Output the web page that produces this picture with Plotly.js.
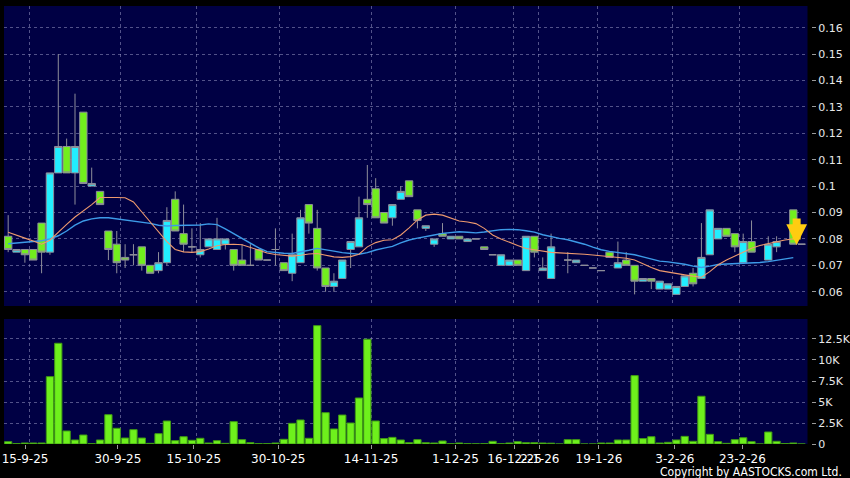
<!DOCTYPE html>
<html><head><meta charset="utf-8">
<script src="https://cdn.plot.ly/plotly-3.0.1.min.js"></script>
<style>html,body{margin:0;padding:0;background:#000;}#chart{width:850px;height:478px;}</style>
</head><body><div id="chart"></div>
<script>
const open=[0.081,0.075,0.076,0.076,0.086,0.075,0.105,0.115,0.105,0.128,
0.100,0.098,0.083,0.078,0.073,0.074,0.077,0.070,0.068,0.071,
0.095,0.082,0.077,0.074,0.077,0.076,0.078,0.076,0.072,0.070,
0.076,0.072,0.076,0.071,0.067,0.071,0.093,0.084,0.069,0.062,
0.065,0.076,0.077,0.095,0.099,0.090,0.088,0.095,0.102,0.091,
0.084,0.078,0.082,0.080,0.081,0.079,0.080,0.077,0.074,0.070,
0.070,0.072,0.068,0.081,0.068,0.065,null,0.072,0.071,0.070,
0.069,0.068,0.075,0.069,0.072,0.070,0.064,0.065,0.061,0.061,
0.059,0.062,0.067,0.065,0.074,0.080,0.084,0.082,0.071,0.079,
null,0.072,0.077,null,0.091,0.078];
const high=[0.089,0.076,0.076,0.076,0.086,0.105,0.150,0.118,0.135,0.128,
0.107,0.098,0.083,0.083,0.078,0.078,0.077,0.070,0.075,0.092,
0.098,0.093,0.084,0.086,0.080,0.088,0.080,0.076,0.078,0.078,
0.076,0.072,0.084,0.071,0.082,0.091,0.093,0.091,0.069,0.067,
0.072,0.079,0.096,0.108,0.103,0.090,0.093,0.100,0.102,0.091,
0.085,0.080,0.086,0.081,0.081,0.080,0.080,0.077,0.074,0.074,
0.072,0.072,0.081,0.081,0.073,0.082,null,0.075,0.072,0.070,
0.069,0.068,0.075,0.079,0.075,0.070,0.065,0.065,0.064,0.063,
0.062,0.066,0.069,0.086,0.091,0.084,0.084,0.082,0.082,0.087,
null,0.081,0.081,null,0.091,0.078];
const low=[0.075,0.075,0.071,0.072,0.067,0.074,0.105,0.105,0.093,0.101,
0.100,0.093,0.072,0.067,0.069,0.070,0.068,0.067,0.067,0.070,
0.083,0.075,0.075,0.073,0.077,0.076,0.076,0.068,0.070,0.070,
0.072,0.072,0.070,0.068,0.064,0.071,0.082,0.068,0.060,0.060,
0.065,0.069,0.077,0.088,0.088,0.086,0.085,0.095,0.096,0.084,
0.083,0.077,0.081,0.080,0.080,0.079,0.080,0.076,0.074,0.070,
0.070,0.070,0.068,0.073,0.068,0.065,null,0.067,0.071,0.070,
0.069,0.068,0.073,0.069,0.070,0.059,0.064,0.061,0.061,0.061,
0.059,0.062,0.062,0.065,0.074,0.080,0.081,0.075,0.071,0.075,
null,0.072,0.075,null,0.078,0.078];
const close=[0.076,0.076,0.074,0.072,0.075,0.105,0.115,0.105,0.115,0.101,
0.101,0.093,0.076,0.071,0.072,0.074,0.070,0.067,0.071,0.087,
0.083,0.078,0.077,0.076,0.080,0.080,0.080,0.070,0.070,0.070,
0.072,0.072,0.076,0.068,0.074,0.088,0.086,0.069,0.062,0.064,
0.072,0.079,0.088,0.093,0.088,0.086,0.093,0.098,0.096,0.087,
0.085,0.080,0.081,0.081,0.080,0.080,0.080,0.076,0.074,0.074,
0.072,0.070,0.081,0.075,0.069,0.077,null,0.072,0.072,0.070,
0.069,0.068,0.073,0.071,0.070,0.064,0.065,0.064,0.064,0.063,
0.062,0.066,0.063,0.073,0.091,0.084,0.081,0.077,0.079,0.075,
null,0.078,0.079,null,0.078,0.078];
const volume=[280,50,120,120,120,8020,11990,1550,480,1070,
40,480,3490,1870,710,1710,710,80,1230,2740,
400,870,440,680,120,400,80,2660,520,160,
40,40,120,560,2460,2860,680,14090,3730,1790,
3450,2500,5480,12470,2740,640,790,480,160,520,
160,120,360,40,120,40,20,40,320,40,
120,280,160,160,120,100,0,520,520,0,
0,120,120,480,480,8140,640,870,120,200,
480,910,320,5680,1150,280,80,520,750,280,
0,1430,320,60,120,0];
const ma10=[0.0825,0.0815,0.0803,0.0792,0.0780,0.0795,0.0827,0.0855,0.0883,0.0905,
0.0930,0.0957,0.0958,0.0957,0.0956,0.0940,0.0902,0.0865,0.0828,0.0790,
0.0760,0.0751,0.0749,0.0752,0.0762,0.0774,0.0779,0.0780,0.0778,0.0768,
0.0757,0.0747,0.0741,0.0737,0.0735,0.0738,0.0743,0.0745,0.0739,0.0732,
0.0730,0.0733,0.0742,0.0770,0.0786,0.0795,0.0797,0.0815,0.0842,0.0872,
0.0890,0.0894,0.0890,0.0880,0.0868,0.0864,0.0858,0.0840,0.0815,0.0800,
0.0786,0.0775,0.0764,0.0759,0.0754,0.0749,0.0747,0.0746,0.0744,0.0742,
0.0739,0.0736,0.0733,0.0731,0.0727,0.0720,0.0705,0.0692,0.0680,0.0674,
0.0669,0.0664,0.0659,0.0655,0.0676,0.0702,0.0720,0.0736,0.0750,0.0765,
0.0775,0.0781,0.0789,0.0796,0.0800,null];
const ma20=[0.0782,0.0784,0.0787,0.0790,0.0793,0.0800,0.0812,0.0830,0.0852,0.0868,
0.0876,0.0880,0.0880,0.0876,0.0872,0.0866,0.0863,0.0859,0.0852,0.0849,
0.0851,0.0852,0.0852,0.0853,0.0857,0.0854,0.0838,0.0820,0.0802,0.0783,
0.0766,0.0752,0.0748,0.0746,0.0745,0.0750,0.0757,0.0764,0.0760,0.0754,
0.0748,0.0744,0.0742,0.0748,0.0758,0.0765,0.0772,0.0785,0.0796,0.0803,
0.0810,0.0815,0.0821,0.0824,0.0827,0.0825,0.0823,0.0826,0.0830,0.0835,
0.0836,0.0835,0.0831,0.0826,0.0816,0.0808,0.0802,0.0797,0.0789,0.0780,
0.0769,0.0759,0.0753,0.0749,0.0745,0.0740,0.0732,0.0723,0.0716,0.0713,
0.0709,0.0704,0.0697,0.0692,0.0697,0.0703,0.0705,0.0706,0.0707,0.0709,
0.0711,0.0714,0.0719,0.0724,0.0729,null];
const tickIdx=[2,13,22,32,43,53,60,63,70,79,87];
const tickLabels=['15-9-25','30-9-25','15-10-25','30-10-25','14-11-25','1-12-25','16-12-25','2-1-26','19-1-26','3-2-26','23-2-26'];
const priceTicks=[0.06,0.07,0.08,0.09,0.10,0.11,0.12,0.13,0.14,0.15,0.16];
const priceTickText=['0.06','0.07','0.08','0.09','0.1','0.11','0.12','0.13','0.14','0.15','0.16'];
const volTicks=[0,2500,5000,7500,10000,12500];
const volTickText=['0','2.5K','5K','7.5K','10K','12.5K'];

const idx=open.map((_,i)=>i);
const TICK_STRETCH=1.0104;
const tickPos=tickIdx.map(i=>i*TICK_STRETCH);
const gridPos=tickIdx.map(i=>i+0.5);

const GRID='rgba(150,150,195,0.55)';
const FONT='DejaVu Sans, Verdana, sans-serif';

const traces=[
 {type:'candlestick',x:idx,open:open,high:high,low:low,close:close,xaxis:'x',yaxis:'y',
  whiskerwidth:0,hoverinfo:'skip',
  increasing:{line:{color:'#8e8e9a',width:1},fillcolor:'#22eeff'},
  decreasing:{line:{color:'#8e8e9a',width:1},fillcolor:'#72ee1e'}},
 {type:'scatter',mode:'lines',x:idx,y:ma20,xaxis:'x',yaxis:'y',line:{color:'#3d9be8',width:1.4},hoverinfo:'skip'},
 {type:'scatter',mode:'lines',x:idx,y:ma10,xaxis:'x',yaxis:'y',line:{color:'#ee9a6e',width:1.1},hoverinfo:'skip'},
 {type:'bar',x:idx,y:volume,xaxis:'x2',yaxis:'y2',width:0.87,
  marker:{color:'#6ef01c',line:{color:'#3f9a14',width:1}},hoverinfo:'skip'}
];

const minorGrid={tickmode:'array',tickvals:gridPos,showgrid:true,gridcolor:GRID,griddash:'3px,3px',gridwidth:1,ticks:''};
const dom=[0,804/807.5];
const layout={
 width:850,height:478,margin:{l:4,r:38.5,t:6,b:34},
 paper_bgcolor:'#000',plot_bgcolor:'#000044',
 showlegend:false,boxgap:0.12,boxgroupgap:0,bargap:0,
 xaxis:{domain:dom,anchor:'y',range:[-0.5,95.7],showticklabels:false,ticks:'',showgrid:false,
   zeroline:false,showline:false,rangeslider:{visible:false},fixedrange:true,
   tickmode:'array',tickvals:tickPos,minor:minorGrid},
 xaxis2:{domain:dom,anchor:'y2',matches:'x',range:[-0.5,95.7],tickmode:'array',tickvals:tickPos,ticktext:tickLabels,
   ticks:'outside',ticklen:4,tickcolor:'#9a9a9a',tickangle:0,showgrid:false,zeroline:false,showline:false,
   rangeslider:{visible:false},tickfont:{family:FONT,size:12,color:'#ffffff'},minor:minorGrid},
 yaxis:{domain:[138/438,1],anchor:'free',position:1,side:'right',range:[0.0546,0.1682],
   tickmode:'array',tickvals:priceTicks,ticktext:priceTickText,ticks:'outside',ticklen:4,tickcolor:'#9a9a9a',
   showgrid:true,gridcolor:GRID,griddash:'3px,3px',zeroline:false,showline:false,
   tickfont:{family:FONT,size:11,color:'#e8e8e8'}},
 yaxis2:{domain:[0,125/438],anchor:'free',position:1,side:'right',range:[0,14880],
   tickmode:'array',tickvals:volTicks,ticktext:volTickText,ticks:'outside',ticklen:4,tickcolor:'#9a9a9a',
   showgrid:true,gridcolor:GRID,griddash:'3px,3px',zeroline:false,showline:false,
   tickfont:{family:FONT,size:11,color:'#e8e8e8'}},
 annotations:[
  {x:94.4,y:0.0777,xref:'x',yref:'y',ax:0,ay:-28,axref:'pixel',ayref:'pixel',showarrow:true,
   arrowcolor:'#ffcc11',arrowwidth:8,arrowhead:2,arrowsize:0.52,standoff:0,text:''},
  {x:(845-4)/807.5,y:(444-471.7)/438,xref:'paper',yref:'paper',xanchor:'right',yanchor:'middle',
   showarrow:false,text:'Copyright by AASTOCKS.com Ltd.',
   font:{family:'Liberation Sans Narrow, DejaVu Sans Condensed, Liberation Sans, sans-serif',size:12,color:'#ffffff'}}
 ]
};
Plotly.newPlot('chart',traces,layout,{staticPlot:true,displayModeBar:false});
</script></body></html>
